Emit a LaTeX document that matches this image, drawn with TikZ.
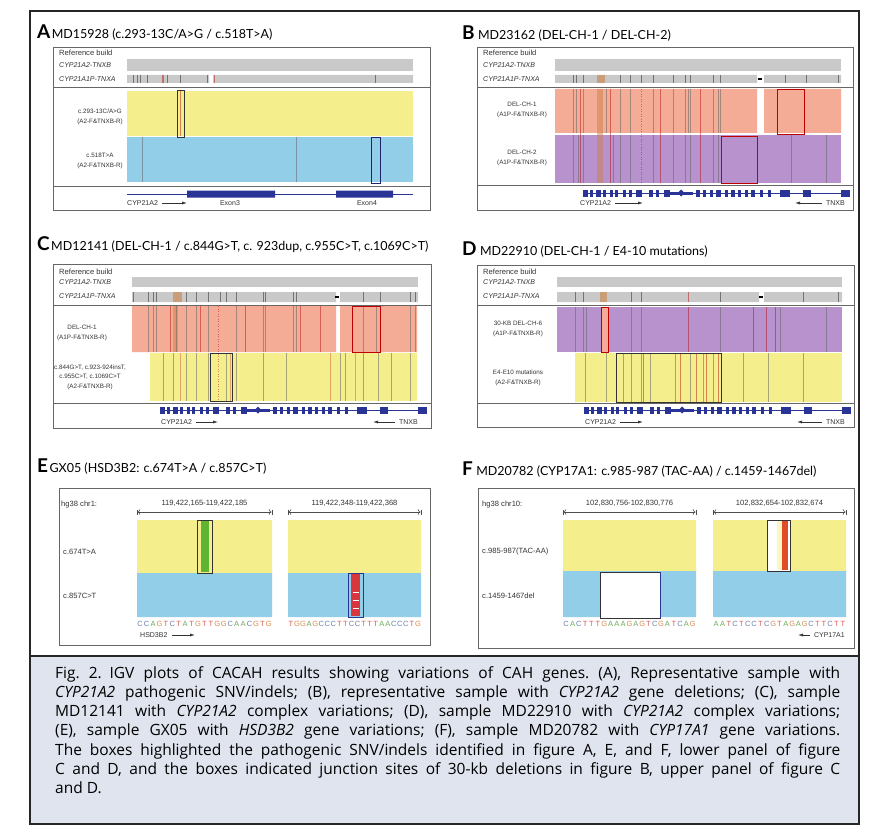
\documentclass[tikz,border=0pt]{standalone}
\usepackage{fontspec}
\setmainfont{Lato}
\newfontfamily\igvfont{Liberation Sans}
\newfontfamily\capfont{Open Sans}
\usepackage{tikz}
\usetikzlibrary{arrows.meta, positioning}
\usepackage{xcolor}
\definecolor{igvyellow}{RGB}{244,238,140}
\definecolor{igvblue}{RGB}{146,206,232}
\definecolor{igvsalmon}{RGB}{244,172,150}
\definecolor{igvpurple}{RGB}{184,146,204}
\definecolor{refgray}{RGB}{201,201,201}
\definecolor{genenavy}{RGB}{42,52,150}
\definecolor{capbg}{RGB}{223,228,238}
\definecolor{colA}{RGB}{110,170,90}
\definecolor{colC}{RGB}{110,130,175}
\definecolor{colG}{RGB}{215,140,80}
\definecolor{colT}{RGB}{215,90,80}
\definecolor{hitred}{RGB}{215,55,60}
\definecolor{hitgreen}{RGB}{95,180,50}
\definecolor{hitorange}{RGB}{225,75,40}
\definecolor{pseudoband}{RGB}{205,130,70}

\begin{document}
\begin{tikzpicture}[x=1pt, y=-1pt,
    framebox/.style={draw=black!85, line width=1.2pt},
    panelbox/.style={draw=black!60, line width=0.6pt},
    paneltag/.style={font=\bfseries\fontsize{19}{19}\selectfont, inner sep=0pt, anchor=base west},
    paneltitle/.style={font=\fontsize{12.5}{14}\selectfont, inner sep=0pt},
    reflbl/.style={font=\igvfont\fontsize{7.6}{9}\selectfont, inner sep=0pt, anchor=west, text=black!80},
    refgene/.style={reflbl, font=\igvfont\itshape\fontsize{7}{9}\selectfont},
    trklbl/.style={font=\igvfont\fontsize{6.3}{9.5}\selectfont, align=center, inner sep=0pt, text=black!80},
    winlbl/.style={font=\igvfont\fontsize{7.6}{9}\selectfont, inner sep=0pt, text=black!80},
    genelbl/.style={font=\igvfont\fontsize{7}{9}\selectfont, inner sep=0pt, text=black!80},
    seqbase/.style={font=\igvfont\fontsize{7.5}{8}\selectfont, inner sep=0pt},
    genearr/.style={-{Latex[length=5pt,width=3pt]}, line width=0.6pt, black!80},
    rangearr/.style={|<->|, line width=0.5pt, black!70},
    refline/.style={draw=black!55, line width=0.5pt},
    redline/.style={draw=red!70!black, line width=0.5pt, opacity=0.45},
    bandline/.style={draw=black!60, line width=0.5pt, opacity=0.55},
    hitbox/.style={draw=black!80, line width=0.6pt},
    junctbox/.style={draw=red!75!black, line width=0.7pt},
]
\useasboundingbox (0,0) rectangle (875,840);

% outer frame and caption
\draw[framebox, fill=white] (30,11) rectangle (859,824);
\draw[framebox, fill=capbg] (30,656) rectangle (859,824);
\node[anchor=north west, inner sep=0pt, text width=785pt, align=justify,
      font=\capfont\fontsize{15.5}{19.3}\selectfont] (caption) at (55,666)
  {\frenchspacing Fig.~2.\enspace IGV plots of CACAH results showing variations of CAH genes. (A), Representative sample with\linebreak
   \textit{CYP21A2} pathogenic SNV/indels; (B), representative sample with \textit{CYP21A2} gene deletions; (C), sample\linebreak
   MD12141 with \textit{CYP21A2} complex variations; (D), sample MD22910 with \textit{CYP21A2} complex variations;\linebreak
   (E), sample GX05 with \textit{HSD3B2} gene variations; (F), sample MD20782 with \textit{CYP17A1} gene variations.\linebreak
   The boxes highlighted the pathogenic SNV/indels identified in figure A, E, and F, lower panel of figure\linebreak
   C and D, and the boxes indicated junction sites of 30-kb deletions in figure B, upper panel of figure C\linebreak
   and D.};

% panel titles
\node[paneltag] (tagA) at (37,39) {A};
\node[paneltitle, base right=1pt of tagA] (titleA) {MD15928 (c.293-13C/A>G / c.518T>A)};
\node[paneltag] (tagB) at (462,40) {B};
\node[paneltitle, base right=3pt of tagB] (titleB) {MD23162 (DEL-CH-1 / DEL-CH-2)};
\node[paneltag] (tagC) at (37,250.5) {C};
\node[paneltitle, base right=1pt of tagC] (titleC) {MD12141 (DEL-CH-1 / c.844G>T, c. 923dup, c.955C>T, c.1069C>T)};
\node[paneltag] (tagD) at (462,255) {D};
\node[paneltitle, base right=3pt of tagD] (titleD) {MD22910 (DEL-CH-1 / E4-10 mutations)};
\node[paneltag] (tagE) at (37,472.5) {E};
\node[paneltitle, base right=1pt of tagE] (titleE) {GX05 (HSD3B2: c.674T>A / c.857C>T)};
\node[paneltag] (tagF) at (462,475) {F};
\node[paneltitle, base right=3pt of tagF] (titleF) {MD20782 (CYP17A1: c.985-987 (TAC-AA) / c.1459-1467del)};

% ---------------- panel A ----------------
\draw[panelbox] (53,47) rectangle (430,210);
\draw[panelbox] (53,87) -- (430,87) (53,186) -- (430,186);
\node[reflbl] (refA) at (59,53) {Reference build};
\node[refgene] (refA1) at (59,65) {CYP21A2-TNXB};
\node[refgene] (refA2) at (59,79) {CYP21A1P-TNXA};
\fill[refgray] (127,59) rectangle (413,71);
\fill[refgray] (127,75) rectangle (209,83) (213,75) rectangle (413,83);
\foreach \x in {133,137,140,147,167,180,207,375} \draw[refline] (\x,75) -- (\x,83);
\foreach \x in {162,163.5,214} \draw[redline] (\x,75) -- (\x,83);
\fill[igvyellow] (127,91) rectangle (413,136);
\fill[igvblue] (127,137) rectangle (413,182);
\foreach \x in {142,296} \draw[bandline] (\x,137) -- (\x,182);
\draw[redline] (180.5,91) -- (180.5,136);
\draw[hitbox] (177,90) rectangle (184,137);
\draw[hitbox, draw=genenavy!70!black] (371,137) rectangle (380,183);
\node[trklbl] (lblA1) at (100,117) {c.293-13C/A>G\\(A2-F\&TNXB-R)};
\node[trklbl] (lblA2) at (100,161) {c.518T>A\\(A2-F\&TNXB-R)};
\draw[genenavy, line width=0.5pt] (127,194) -- (413,194);
\fill[genenavy] (187,190.5) rectangle (275,197.5) (336,190.5) rectangle (393,197.5);
\node[genelbl, anchor=west] (geneA) at (127,203) {CYP21A2};
\coordinate (geneAtip) at (187,203);
\draw[genearr] ([xshift=4pt]geneA.east) -- (geneAtip);
\node[genelbl] (exon3) at (230,203) {Exon3};
\node[genelbl] (exon4) at (367,203) {Exon4};

% ---------------- panel B ----------------
\draw[panelbox] (477,47) rectangle (853,210);
\draw[panelbox] (477,87) -- (853,87) (477,185) -- (853,185);
\node[reflbl] (refB) at (483,53) {Reference build};
\node[refgene] (refB1) at (483,65) {CYP21A2-TNXB};
\node[refgene] (refB2) at (483,79) {CYP21A1P-TNXA};
\fill[refgray] (555,59) rectangle (841,71);
\fill[refgray] (555,75) rectangle (757,83) (764,75) rectangle (841,83);
\fill[pseudoband, opacity=0.6] (596.7,75) rectangle (605,83);
\draw[black, line width=1.2pt] (757.5,79) -- (762,79);
\foreach \x in {573.3,576.7,583.3,620,630,641.7,653.3,673.3,685,690,713.3,720,785,806.7,838.3} \draw[refline] (\x,75) -- (\x,83);
\fill[igvsalmon] (555,89) rectangle (757,133) (764,89) rectangle (841,133);
\fill[igvpurple] (555,135) rectangle (841,183);
\fill[pseudoband, opacity=0.5] (596.7,89) rectangle (603.3,183);
\foreach \x in {573.3,576.7,583.3,606.7,620,630,653.3,673.3,685,688,690,713.3,718.3,720} \draw[bandline] (\x,89) -- (\x,133);
\foreach \x in {573.3,578.3,583.3,613.3,620,630,653.3,673.3,685,690,713.3,718.3,791.7,826.7} \draw[bandline] (\x,135) -- (\x,183);
\foreach \x in {580,610,660,700} \draw[redline] (\x,89) -- (\x,183);
\draw[redline, dotted, line width=0.8pt] (641.7,89) -- (641.7,183);
\draw[junctbox] (777,89) rectangle (804,134);
\draw[junctbox] (721,136) rectangle (757,183);
\node[trklbl] (lblB1) at (522,110) {DEL-CH-1\\(A1P-F\&TNXB-R)};
\node[trklbl] (lblB2) at (522,158) {DEL-CH-2\\(A1P-F\&TNXB-R)};
\node[genelbl, anchor=west] (geneB) at (580,203) {CYP21A2};
\coordinate (geneBtip) at (643,203);
\draw[genearr] ([xshift=4pt]geneB.east) -- (geneBtip);
\node[genelbl, anchor=east] (tnxbB) at (845,203) {TNXB};
\coordinate (tnxbBtip) at (795,203);
\draw[genearr] ([xshift=-4pt]tnxbB.west) -- (tnxbBtip);

% ---------------- panel C ----------------
\draw[panelbox] (53,264) rectangle (431,428);
\draw[panelbox] (53,305) -- (431,305) (53,403) -- (431,403);
\node[reflbl] (refC) at (59,272) {Reference build};
\node[refgene] (refC1) at (59,282) {CYP21A2-TNXB};
\node[refgene] (refC2) at (59,296) {CYP21A1P-TNXA};
\fill[refgray] (132,277) rectangle (418,287);
\fill[refgray] (132,292) rectangle (336,302) (340,292) rectangle (418,302);
\fill[pseudoband, opacity=0.6] (173.3,292) rectangle (181.7,302);
\draw[black, line width=1.2pt] (335,297) -- (339,297);
\foreach \x in {133.3,148.3,153.3,156.7,186.7,196.7,208.3,220,226.7,236.7,263.3,265,293.3,296.7,363.3,380,410,415} \draw[refline] (\x,292) -- (\x,302);
\fill[igvsalmon] (132,306) rectangle (336,352) (340,306) rectangle (417,352);
\fill[igvyellow] (150,353) rectangle (417,401);
\fill[pseudoband, opacity=0.5] (173.3,306) rectangle (178,352);
\foreach \x in {148.3,153.3,156.7,176.7,186.7,196.7,208.3,236.7,263.3,265,293.3,296.7,363.3,376.7,410,415} \draw[bandline] (\x,306) -- (\x,352);
\foreach \x in {163.3,173.3,186.7,196.7,208.3,226.7,236.7,263.3,286.7,340,345,363.3,378.3,391.7,410} \draw[bandline] (\x,353) -- (\x,401);
\foreach \x in {170,200,245,300,320} \draw[redline] (\x,306) -- (\x,352);
\foreach \x in {180,230,330,355} \draw[redline, opacity=0.3] (\x,353) -- (\x,401);
\draw[redline, dotted, line width=0.8pt] (218.3,306) -- (218.3,401);
\draw[junctbox] (352,306) rectangle (380,352);
\draw[hitbox] (210,353) rectangle (232,401);
\node[trklbl] (lblC1) at (82,333) {DEL-CH-1\\(A1P-F\&TNXB-R)};
\node[trklbl] (lblC2) at (90,377) {c.844G>T, c.923-924insT,\\c.955C>T, c.1069C>T\\(A2-F\&TNXB-R)};
\node[genelbl, anchor=west] (geneC) at (161,422) {CYP21A2};
\coordinate (geneCtip) at (218,422);
\draw[genearr] ([xshift=4pt]geneC.east) -- (geneCtip);
\node[genelbl, anchor=east] (tnxbC) at (418,422) {TNXB};
\coordinate (tnxbCtip) at (373,422);
\draw[genearr] ([xshift=-4pt]tnxbC.west) -- (tnxbCtip);

% ---------------- panel D ----------------
\draw[panelbox] (477,265) rectangle (854,427);
\draw[panelbox] (477,305) -- (854,305) (477,403) -- (854,403);
\node[reflbl] (refD) at (483,272) {Reference build};
\node[refgene] (refD1) at (483,282) {CYP21A2-TNXB};
\node[refgene] (refD2) at (483,296) {CYP21A1P-TNXA};
\fill[refgray] (557,277) rectangle (842,287);
\fill[refgray] (557,292) rectangle (759,302) (764,292) rectangle (842,302);
\fill[pseudoband, opacity=0.6] (600,292) rectangle (606.7,302);
\draw[black, line width=1.2pt] (759,297) -- (763,297);
\foreach \x in {575,583.3,631.7,641.7,720,803.3,838.3} \draw[refline] (\x,292) -- (\x,302);
\draw[redline] (688.3,292) -- (688.3,302);
\fill[igvpurple] (557,307) rectangle (842,352);
\fill[igvyellow] (575,353) rectangle (842,402);
\foreach \x in {575,583.3,586.7,631.7,641.7,720,780,826.7} \draw[bandline] (\x,307) -- (\x,352);
\foreach \x in {606.7,688.3,753.3,766.7,775} \draw[redline] (\x,307) -- (\x,352);
\foreach \x in {585,606.7,616.7,623.3,631.7,641.7,650,675,690,703.3,713.3,743.3,768.3,803.3} \draw[bandline] (\x,353) -- (\x,402);
\foreach \x in {643.3,680,696.7,706.7,718.3} \draw[redline] (\x,353) -- (\x,402);
\draw[junctbox, fill=igvsalmon] (601,307) rectangle (608,352);
\draw[hitbox] (616,353) rectangle (721,402);
\node[trklbl] (lblD1) at (518,329) {30-KB DEL-CH-6\\(A1P-F\&TNXB-R)};
\node[trklbl] (lblD2) at (518,378) {E4-E10 mutations\\(A2-F\&TNXB-R)};
\node[genelbl, anchor=west] (geneD) at (585,422) {CYP21A2};
\coordinate (geneDtip) at (643,422);
\draw[genearr] ([xshift=4pt]geneD.east) -- (geneDtip);
\node[genelbl, anchor=east] (tnxbD) at (845,422) {TNXB};
\coordinate (tnxbDtip) at (797,422);
\draw[genearr] ([xshift=-4pt]tnxbD.west) -- (tnxbDtip);

% CYP21A2 / TNXB gene tracks of panels B, C and D
\foreach \gx/\gy in {583/193,160/410,584/410} {
  \begin{scope}[shift={(\gx,\gy)}]
    \draw[genenavy, line width=0.5pt] (0,0) -- (266.7,0);
    \foreach \a/\b in {0/5,6.7/10,13.3/18.3,20/23.3,26.7/30,31.7/35,40/43.3,46/49.3,53.3/59.3,
                       66/70,72.7/76,80.7/86.7,112.7/116.7,120/123.3,126.7/130,133.3/138.3,
                       141.7/145,148.3/151.7,155/158.3,161.7/165,168.3/171.7,176.7/180,
                       185/188.3,196.7/206.7,220/228.3,258.3/266.7}
      \fill[genenavy] (\a,-3.5) rectangle (\b,3.5);
    \fill[genenavy] (86.7,-1.5) rectangle (110,1.5);
    \fill[genenavy] (98,-3.5) -- (101.5,0) -- (98,3.5) -- (94.5,0) -- cycle;
  \end{scope}
}

% ---------------- panel E ----------------
\draw[panelbox] (59,488) rectangle (430,645);
\node[winlbl, anchor=west] (chrE) at (61,505) {hg38 chr1:};
\coordinate (wE1a) at (137,512); \coordinate (wE1b) at (272,512);
\coordinate (wE2a) at (288,512); \coordinate (wE2b) at (421,512);
\draw[rangearr] (wE1a) -- (wE1b);
\draw[rangearr] (wE2a) -- (wE2b);
\node[winlbl] (posE1) at (204.5,503) {119,422,165-119,422,185};
\node[winlbl] (posE2) at (354.5,503) {119,422,348-119,422,368};
\fill[igvyellow] (137,520) rectangle (272,573) (288,520) rectangle (421,573);
\fill[igvblue] (137,573) rectangle (272,617) (288,573) rectangle (421,617);
\fill[hitgreen] (201,521) rectangle (209,572);
\draw[hitbox] (197,520) rectangle (212,573);
\fill[hitred] (351,574) rectangle (360,616);
\foreach \y in {592,600,608} \draw[white, line width=0.6pt] (352.5,\y) -- (358.5,\y);
\draw[hitbox, draw=genenavy] (348,573) rectangle (363,617);
\node[winlbl, anchor=west] (lblE1) at (63,552) {c.674T>A};
\node[winlbl, anchor=west] (lblE2) at (63,596) {c.857C>T};
\foreach \b [count=\i] in {C,C,A,G,T,C,T,A,T,G,T,T,G,G,C,A,A,C,G,T,G}
  \node[seqbase, text=col\b] (seqE1\i) at ({140.2+(\i-1)*6.43},624) {\b};
\foreach \b [count=\i] in {T,G,G,A,G,C,C,C,T,T,C,C,T,T,T,A,A,C,C,C,T,G}
  \node[seqbase, text=col\b] (seqE2\i) at ({291+(\i-1)*6.05},624) {\b};
\node[genelbl, anchor=west] (geneE) at (140,635) {HSD3B2};
\coordinate (geneEtip) at (195,635);
\draw[genearr] ([xshift=4pt]geneE.east) -- (geneEtip);

% ---------------- panel F ----------------
\draw[panelbox] (478,488) rectangle (854,648);
\node[winlbl, anchor=west] (chrF) at (482,505) {hg38 chr10:};
\coordinate (wF1a) at (563,512); \coordinate (wF1b) at (696,512);
\coordinate (wF2a) at (713,512); \coordinate (wF2b) at (846,512);
\draw[rangearr] (wF1a) -- (wF1b);
\draw[rangearr] (wF2a) -- (wF2b);
\node[winlbl] (posF1) at (629.5,503) {102,830,756-102,830,776};
\node[winlbl] (posF2) at (779.5,503) {102,832,654-102,832,674};
\fill[igvyellow] (563,520) rectangle (696,571) (713,520) rectangle (846,571);
\fill[igvblue] (563,571) rectangle (696,617) (713,571) rectangle (846,617);
\draw[hitbox, fill=white] (600,572) rectangle (660,618);
\draw[genenavy, line width=0.8pt] (660,572) -- (660,618);
\fill[white] (767,520) rectangle (790,571);
\fill[igvyellow!50] (777,521) rectangle (782,570);
\fill[hitorange] (782,521) rectangle (788,570);
\draw[hitbox] (767,520) rectangle (790,571);
\node[winlbl, anchor=west] (lblF1) at (482,552) {c.985-987(TAC-AA)};
\node[winlbl, anchor=west] (lblF2) at (482,596) {c.1459-1467del};
\foreach \b [count=\i] in {C,A,C,T,T,T,G,A,A,A,G,A,G,T,C,G,A,T,C,A,G}
  \node[seqbase, text=col\b] (seqF1\i) at ({566.2+(\i-1)*6.33},624) {\b};
\foreach \b [count=\i] in {A,A,T,C,T,C,C,T,C,G,T,A,G,A,G,C,T,T,C,T,T}
  \node[seqbase, text=col\b] (seqF2\i) at ({716.2+(\i-1)*6.33},624) {\b};
\node[genelbl, anchor=east] (geneF) at (845,635) {CYP17A1};
\coordinate (geneFtip) at (798,635);
\draw[genearr] ([xshift=-4pt]geneF.west) -- (geneFtip);

\end{tikzpicture}
\end{document}
